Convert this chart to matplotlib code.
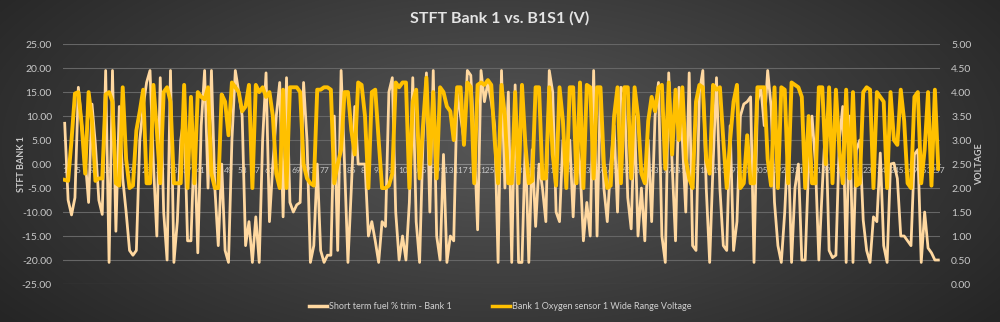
# STFT bank 1 against B1S1 wide range voltage, dark excel-like style
# saves out.png

import numpy as np
import matplotlib
matplotlib.use('Agg')
import matplotlib.pyplot as plt
from matplotlib.lines import Line2D

plt.rcParams['font.family'] = ['Lato', 'DejaVu Sans']

amostras = list(range(1, 258))

# short term fuel trim (%) - left axis
stft = [
    8.5, -7.5, -10.6, -7, 16, 8, 1, -8, 12.5, 4,
    -7.5, -10.5, 19.5, -20.5, 19.5, -14, 12, -3, -10, -18,
    -19, -18, 5, 12, 17, 19.5, 0, -15, 18, -10,
    -20, 19.5, -20.5, -12, 5, 10, -16, -16, 5, -18.5,
    8, 19.5, -5, 19.5, -5, -17, 0, -18, -20.5, 5,
    19.5, 15, 10, -17, -12, -20.5, -11, -20.5, 5, 19,
    -12, 0, 10, 17, -11, 18, -8, -10, -8.5, -8,
    17, 5, -20.5, -17, 0, -18, -20.5, -19, -19, 10,
    -18, 19.5, 0, -20.5, -5, 12, 0, 0, 0, -15,
    -12, -16, -20.5, -12, -13, 15, 18, -10, -20, -15,
    -20, -8, 18, -12, -20.5, 5, 19, -10, 19.5, -15,
    -20, 2, -20.5, -15, -16, 15, 10, 5, 19.5, 18.5,
    5, -13.7, 19.5, 13, 17, 13, 8, -20.5, 19.5, -5,
    15, -20.5, 16.5, -20.5, -20.5, 5, -20.5, 3, -13, 0,
    -5, -12, 19.5, 15, -10, -12, 5, -3, 5, -11,
    5, 0, -16, -8, -15, 19.5, -15, 16, -5, -12,
    0, 8, -10, 16, 15, -7, -13.5, 10, -15, -5,
    -16, 5, -12, 10, 17, -15, -20.5, 19, 0, -16,
    16, 5, -10, 19, -17, -18, 15, 19.5, -5, -20.5,
    0, 18, -5, -17, -18, 8, -18, -12, 10, 12.5,
    13, 14, -20.5, 13, 16, 8, 19.5, 12, -8, -17,
    -20.5, -10, 5, -20.5, -5, 0, -20, -20, 0, 10,
    0, -20, -5, 9, -18, -19.5, -19, 5, 12, -20.5,
    10, -20.5, 3, 5, -11.7, -18, -20.5, -11, -12, 2.3,
    -17, -20.5, 0, 0.2, -3, -15, -15, -16, -17, 2,
    3, -20.5, -10, -17.5, -18.5, -20, -20,
]

# oxygen sensor voltage (V) - right axis
tensao = [
    2.17, 2.15, 3.0, 3.97, 4.0, 3.3, 2.3, 4.0, 3.4, 2.15,
    2.2, 2.2, 3.95, 4.0, 3.8, 2.1, 2.05, 4.1, 2.6, 2.0,
    2.05, 3.2, 3.6, 4.05, 2.1, 2.1, 4.15, 3.2, 2.1, 4.0,
    4.1, 3.8, 2.1, 2.1, 2.1, 4.15, 2.0, 3.9, 2.1, 4.0,
    3.9, 3.85, 4.1, 2.3, 2.0, 2.0, 3.95, 3.8, 3.1, 4.2,
    4.1, 4.0, 3.6, 3.7, 4.15, 2.0, 4.15, 4.0, 4.1, 3.9,
    4.0, 3.5, 2.3, 2.0, 4.05, 2.0, 4.1, 4.1, 4.1, 4.0,
    2.5, 2.2, 2.1, 2.05, 4.05, 4.05, 4.1, 4.1, 4.05, 2.1,
    2.5, 2.8, 4.0, 4.0, 3.2, 2.7, 4.2, 4.15, 3.5, 2.0,
    4.0, 4.05, 3.0, 2.0, 2.0, 2.05, 2.3, 4.2, 4.1, 4.2,
    4.2, 2.0, 3.8, 4.05, 2.2, 3.3, 4.3, 2.5, 4.0, 2.2,
    4.1, 4.0, 3.7, 3.6, 3.0, 4.1, 4.1, 2.9, 4.2, 4.1,
    2.1, 4.15, 4.2, 4.15, 4.25, 4.15, 3.0, 2.1, 4.15, 3.5,
    2.1, 2.1, 4.0, 2.1, 4.15, 2.9, 2.1, 2.15, 4.1, 4.1,
    2.2, 2.2, 4.1, 2.7, 2.05, 4.1, 3.4, 2.0, 4.1, 4.1,
    2.1, 4.2, 2.0, 4.15, 4.1, 2.2, 4.1, 4.1, 2.5, 2.0,
    2.05, 3.5, 4.1, 2.1, 4.1, 4.1, 2.2, 4.1, 3.5, 2.3,
    2.1, 3.4, 3.9, 3.6, 4.1, 4.15, 2.4, 4.2, 2.7, 4.05,
    3.0, 4.1, 2.6, 2.2, 2.0, 3.8, 4.15, 4.1, 2.6, 2.3,
    4.15, 4.05, 4.1, 3.0, 2.0, 3.0, 3.8, 4.15, 2.0, 2.1,
    3.1, 2.1, 2.1, 4.1, 4.1, 4.1, 2.6, 2.05, 4.1, 2.0,
    4.1, 4.05, 2.1, 4.2, 4.15, 4.1, 3.9, 2.0, 3.5, 2.1,
    2.1, 4.1, 4.1, 2.5, 4.1, 2.1, 4.05, 2.8, 2.1, 4.05,
    2.2, 4.0, 2.05, 2.1, 4.0, 4.1, 4.05, 2.0, 4.0, 3.9,
    3.8, 2.0, 4.0, 3.0, 2.9, 4.05, 3.4, 2.1, 2.0, 3.9,
    4.0, 2.1, 2.8, 4.0, 2.05, 4.05, 2.4,
]

rotulos_x = [str(n) for n in range(1, 258, 4)]
ticks_esq = [-25, -20, -15, -10, -5, 0, 5, 10, 15, 20, 25]
ticks_dir = [0, 0.5, 1, 1.5, 2, 2.5, 3, 3.5, 4, 4.5, 5]

nome_stft = 'Short term fuel % trim - Bank 1'
nome_tensao = 'Bank 1 Oxygen sensor 1 Wide Range Voltage'

cor_stft = '#ffd8a0'
cor_tensao = '#ffc000'
cor_texto = '#c8c8c8'

fig = plt.figure(figsize=(10, 3.22), dpi=100)

# dark radial background
fundo = fig.add_axes([0, 0, 1, 1], zorder=-10)
yy, xx = np.mgrid[0:1:322j, 0:1:1000j]
r = np.sqrt(((xx - 0.5) / 0.62) ** 2 + ((yy - 0.45) / 0.9) ** 2)
r = np.clip(r, 0, 1)
cinza = 0.34 * (1 - r) + 0.15 * r
fundo.imshow(cinza, cmap='gray', vmin=0, vmax=1, aspect='auto',
             extent=[0, 1, 0, 1])
fundo.axis('off')

ax = fig.add_axes([0.063, 0.118, 0.877, 0.745])
ax.set_facecolor('none')
ax2 = ax.twinx()

ax.plot(amostras, stft, color=cor_stft, lw=2.0, zorder=3)
ax2.plot(amostras, tensao, color=cor_tensao, lw=2.8, zorder=4)

ax.set_xlim(0.5, 257.5)
ax.set_ylim(-25, 25)
ax2.set_ylim(0, 5)

ax.set_yticks(ticks_esq)
ax.set_yticklabels(['%.2f' % v for v in ticks_esq])
ax2.set_yticks(ticks_dir)
ax2.set_yticklabels(['%.2f' % v for v in ticks_dir])

ax.set_xticks(range(1, 258, 4))
ax.set_xticklabels(rotulos_x, rotation=90)

ax.grid(axis='y', color='#666666', lw=0.8)
ax.set_axisbelow(True)

for a in [ax, ax2]:
    for lado in ['top', 'left', 'right']:
        a.spines[lado].set_visible(False)
ax2.spines['bottom'].set_visible(False)
ax.spines['bottom'].set_position(('data', 0))
ax.spines['bottom'].set_color('#858585')
ax.spines['bottom'].set_linewidth(0.8)

ax.tick_params(axis='x', length=0, pad=2, labelsize=6, colors=cor_texto)
ax.tick_params(axis='y', length=0, pad=8, labelsize=7.5, colors=cor_texto)
ax2.tick_params(axis='y', length=0, pad=8, labelsize=7.5, colors=cor_texto)

fig.text(0.5, 0.942, 'STFT Bank 1 vs. B1S1 (V)', ha='center', va='center',
         fontsize=11.5, fontweight='bold', color='#e4e4e4')
fig.text(0.021, 0.49, 'STFT BANK 1', ha='center', va='center', rotation=90,
         fontsize=6.5, fontweight='bold', color=cor_texto)
fig.text(0.98, 0.49, 'VOLTAGE', ha='center', va='center', rotation=90,
         fontsize=6.5, fontweight='bold', color=cor_texto)

linhas = [Line2D([0], [0], color=cor_stft, lw=2.5),
          Line2D([0], [0], color=cor_tensao, lw=2.5)]
fig.legend(linhas, [nome_stft, nome_tensao], loc='center',
           bbox_to_anchor=(0.5, 0.047), ncol=2, frameon=False, fontsize=6.5,
           labelcolor='#d0d0d0', handlelength=2.0, handletextpad=0.2,
           columnspacing=4.5)

fig.savefig('out.png', dpi=100)
